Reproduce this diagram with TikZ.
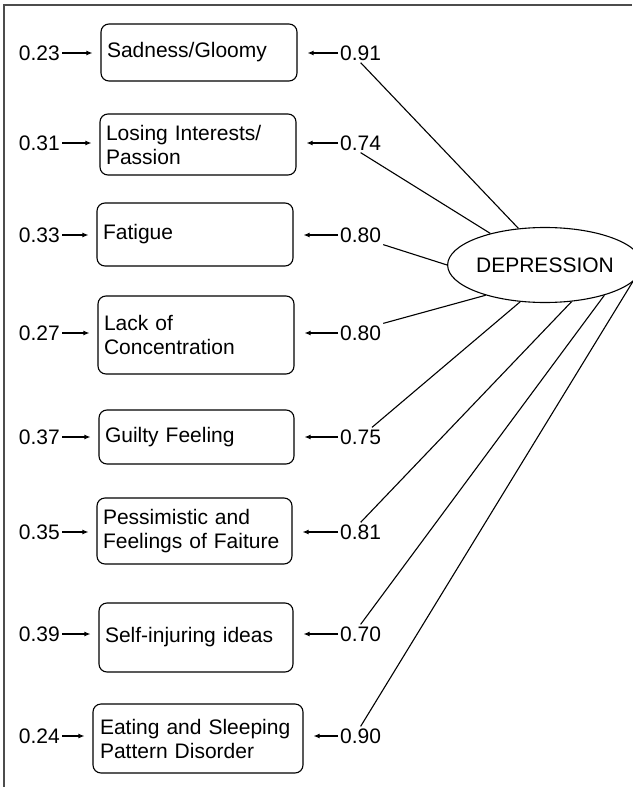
\documentclass[tikz,border=0pt]{standalone}
\usepackage{fontspec}
\setmainfont{Liberation Sans}
\usetikzlibrary{arrows.meta, shapes.geometric}

\begin{document}
\begin{tikzpicture}[x=1pt, y=-1pt,
    item/.style  = {draw, line width=1.1pt, rounded corners=8pt, align=left,
                    font=\fontsize{21}{24}\selectfont, inner xsep=6pt, inner ysep=0pt},
    lat/.style   = {draw, ellipse, line width=1.1pt, minimum width=166pt, minimum height=75pt,
                    inner sep=0pt, font=\fontsize{21}{24}\selectfont},
    num/.style   = {inner sep=2pt, font=\fontsize{21}{24}\selectfont},
    errarr/.style  = {-{Latex[length=6pt, width=5pt]}, line width=1.1pt, shorten >=8pt},
    loadarr/.style = {-{Latex[length=6pt, width=5pt]}, line width=1.1pt, shorten >=10pt},
    path/.style  = {line width=1.1pt},
  ]
    \useasboundingbox (0,0) rectangle (632,787);

    % --- frame ---
    \draw[line width=1.6pt, black!70] (4,787) -- (4,5) -- (632,5);

    % --- indicators ---
    \node[item, text width=184pt, minimum height=57pt] (sad) at (199, 52.5)  {Sadness/Gloomy};
    \node[item, text width=184pt, minimum height=61pt] (los) at (198, 144.5) {Losing Interests/\\ Passion};
    \node[item, text width=184pt, minimum height=63pt] (fat) at (195, 234.5) {Fatigue};
    \node[item, text width=184pt, minimum height=78pt] (con) at (196, 335)   {Lack of\\ Concentration};
    \node[item, text width=183pt, minimum height=54pt] (gui) at (196.5, 437) {Guilty Feeling};
    \node[item, text width=183pt, minimum height=66pt] (pes) at (194.5, 531) {Pessimistic and\\ Feelings of Faiture};
    \node[item, text width=182pt, minimum height=69pt] (inj) at (196, 637.5) {Self-injuring ideas};
    \node[item, text width=196pt, inner xsep=7pt, minimum height=69pt] (eat) at (198, 738.5)
        {Eating and Sleeping\\ Pattern Disorder};

    % --- latent factor ---
    \node[lat] (dep) at (545, 265) {DEPRESSION};

    % --- error terms ---
    \node[num, anchor=east] (e1) at (62, 53)  {0.23};
    \node[num, anchor=east] (e2) at (62, 143) {0.31};
    \node[num, anchor=east] (e3) at (62, 235) {0.33};
    \node[num, anchor=east] (e4) at (62, 333) {0.27};
    \node[num, anchor=east] (e5) at (62, 437) {0.37};
    \node[num, anchor=east] (e6) at (62, 532) {0.35};
    \node[num, anchor=east] (e7) at (62, 634) {0.39};
    \node[num, anchor=east] (e8) at (62, 736) {0.24};

    % --- loadings ---
    \node[num, anchor=west] (l1) at (338, 53)  {0.91};
    \node[num, anchor=west] (l2) at (338, 143) {0.74};
    \node[num, anchor=west] (l3) at (338, 235) {0.80};
    \node[num, anchor=west] (l4) at (338, 333) {0.80};
    \node[num, anchor=west] (l5) at (338, 437) {0.75};
    \node[num, anchor=west] (l6) at (338, 532) {0.81};
    \node[num, anchor=west] (l7) at (338, 634) {0.70};
    \node[num, anchor=west] (l8) at (338, 736) {0.90};

    % --- error arrows ---
    \draw[errarr] (e1) -- (e1 -| sad.west);
    \draw[errarr] (e2) -- (e2 -| los.west);
    \draw[errarr] (e3) -- (e3 -| fat.west);
    \draw[errarr] (e4) -- (e4 -| con.west);
    \draw[errarr] (e5) -- (e5 -| gui.west);
    \draw[errarr] (e6) -- (e6 -| pes.west);
    \draw[errarr] (e7) -- (e7 -| inj.west);
    \draw[errarr] (e8) -- (e8 -| eat.west);

    % --- loading arrows ---
    \draw[loadarr] (l1) -- (l1 -| sad.east);
    \draw[loadarr] (l2) -- (l2 -| los.east);
    \draw[loadarr] (l3) -- (l3 -| fat.east);
    \draw[loadarr] (l4) -- (l4 -| con.east);
    \draw[loadarr] (l5) -- (l5 -| gui.east);
    \draw[loadarr] (l6) -- (l6 -| pes.east);
    \draw[loadarr] (l7) -- (l7 -| inj.east);
    \draw[loadarr] (l8) -- (l8 -| eat.east);

    % --- paths from the factor ---
    \draw[path] (dep.126) -- (l1.south);
    \draw[path] (dep.150) -- (l2.south);
    \draw[path] (dep.180) -- (l3.south east);
    \draw[path] (dep.207) -- (l4.north east);
    \draw[path] (dep.236) -- (l5);
    \draw[path] (dep.306) -- (l6.north);
    \draw[path] (dep.333) -- (l7.north);
    \draw[path] (dep.349) -- (l8.north);
\end{tikzpicture}
\end{document}
